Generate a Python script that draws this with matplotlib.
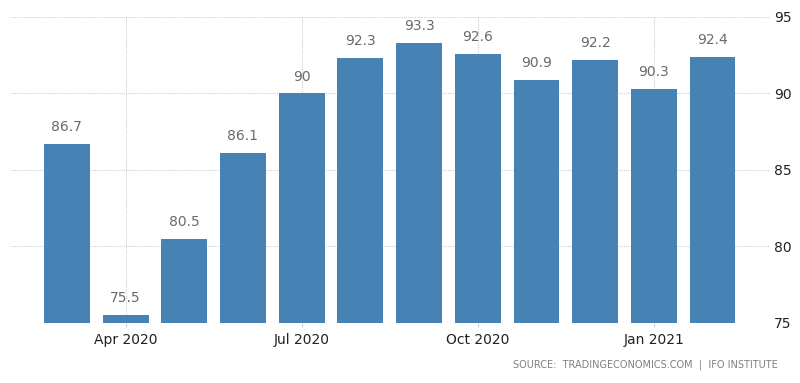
import numpy as np
import matplotlib
matplotlib.use('Agg')
import matplotlib.pyplot as plt

months = ['Mar 2020', 'Apr 2020', 'May 2020', 'Jun 2020', 'Jul 2020', 'Aug 2020',
          'Sep 2020', 'Oct 2020', 'Nov 2020', 'Dec 2020', 'Jan 2021', 'Feb 2021']
values = [86.7, 75.5, 80.5, 86.1, 90, 92.3, 93.3, 92.6, 90.9, 92.2, 90.3, 92.4]
tick_labels = ['Apr 2020', 'Jul 2020', 'Oct 2020', 'Jan 2021']
y_ticks = [75, 80, 85, 90, 95]

bar_color = '#4682b4'
grid_color = '#d0d0d0'

fig = plt.figure(figsize=(8, 3.83), dpi=100)
ax = fig.add_axes([0.0125, 0.1567, 0.95, 0.799])

x = np.arange(len(values))
ax.bar(x, values, width=0.78, color=bar_color, zorder=2)

# valeurs au-dessus des barres
for xi, v in zip(x, values):
    ax.text(xi, v + 0.65, f'{v:g}', ha='center', va='bottom',
            fontsize=10, color='#6a6a6a', zorder=3)

ax.set_ylim(75, 95)
ax.set_xlim(-0.97, 11.98)

ax.yaxis.tick_right()
ax.set_yticks(y_ticks)
ax.set_yticklabels([str(t) for t in y_ticks], fontsize=10, color='#222222')
ax.tick_params(axis='y', length=0, pad=3)

tick_pos = [months.index(m) for m in tick_labels]
ax.set_xticks(tick_pos)
ax.set_xticklabels(tick_labels, fontsize=10, color='#222222')
ax.tick_params(axis='x', length=3, color=grid_color, pad=4)

ax.grid(True, axis='both', linestyle=(0, (1, 1)), color=grid_color, linewidth=0.8, zorder=0)
ax.set_axisbelow(True)
for s in ax.spines.values():
    s.set_visible(False)

fig.text(0.972, 0.035, 'SOURCE:  TRADINGECONOMICS.COM  |  IFO INSTITUTE',
         ha='right', va='bottom', fontsize=7, color='#808080')

fig.savefig('out.png', dpi=100)
